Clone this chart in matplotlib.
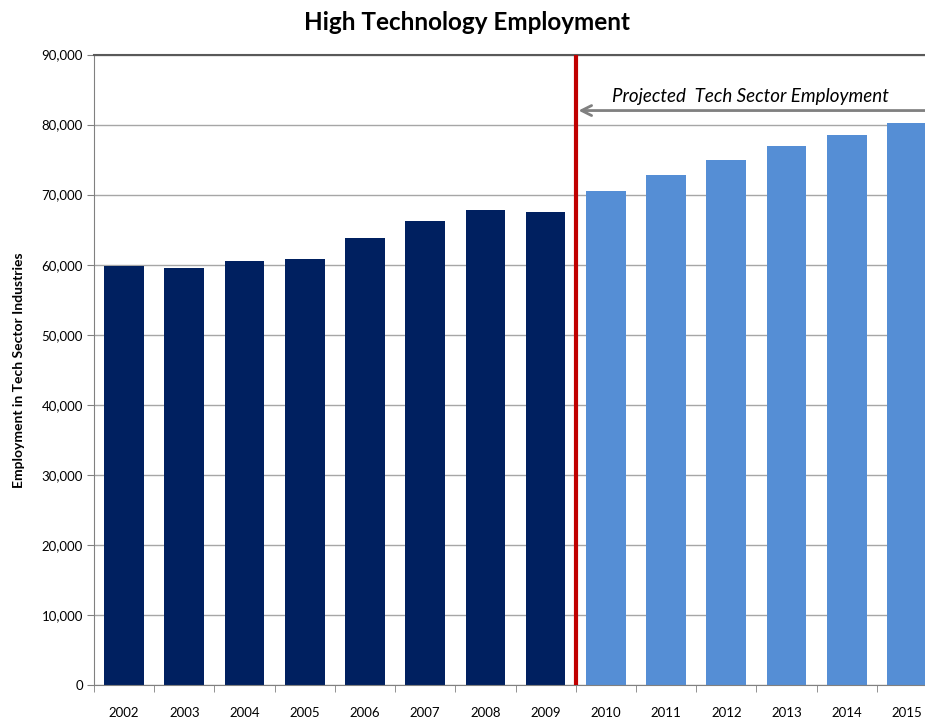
import matplotlib
matplotlib.use("Agg")
import matplotlib.pyplot as plt
from matplotlib.ticker import FuncFormatter, FixedLocator

plt.rcParams['font.family'] = ['Lato', 'DejaVu Sans']

years = ["2002", "2003", "2004", "2005", "2006", "2007", "2008",
         "2009", "2010", "2011", "2012", "2013", "2014", "2015"]
employment = [59800, 59500, 60500, 60800, 63800, 66300, 67800,
              67500, 70500, 72800, 75000, 77000, 78500, 80200]
n_actual = 8  # 2002-2009 are actuals, the rest projected

actual_color = "#002060"
projected_color = "#558ED5"

fig = plt.figure(figsize=(9.25, 7.19), dpi=100)
ax = fig.add_axes([94 / 925, 1 - 685 / 719, 843 / 925, (685 - 54.5) / 719])

x = list(range(len(years)))
colors = [actual_color if i < n_actual else projected_color for i in x]
ax.bar(x, employment, width=0.66, color=colors, zorder=2)

ax.set_xlim(-0.5, len(years) - 0.5)
ax.set_ylim(0, 90000)
ax.set_yticks(range(0, 90001, 10000))
ax.yaxis.set_major_formatter(FuncFormatter(lambda v, p: f"{int(v):,}"))
ax.grid(axis="y", color="#A6A6A6", linewidth=1, zorder=0)

# years sit in the middle of each slot, ticks go on the boundaries
ax.set_xticks(x)
ax.set_xticklabels(years)
ax.tick_params(axis="x", which="major", length=0, pad=16, labelsize=9.5)
ax.xaxis.set_minor_locator(FixedLocator([i - 0.5 for i in range(len(years) + 1)]))
ax.tick_params(axis="x", which="minor", length=5, color="#808080", direction="out")
ax.tick_params(axis="y", length=5, color="#808080", labelsize=9.5, pad=3)

ax.spines["right"].set_visible(False)
ax.spines["left"].set_color("#808080")
ax.spines["bottom"].set_color("#808080")
ax.spines["top"].set_color("#595959")
ax.spines["top"].set_linewidth(1.5)

# split between actual and projected years
split = n_actual - 0.5
ax.axvline(split, color="#C00000", linewidth=3, zorder=4)

ax.annotate("", xy=(split, 82000), xytext=(len(years) - 0.3, 82000),
            arrowprops=dict(arrowstyle="<->", color="#808080", lw=2,
                            mutation_scale=18),
            annotation_clip=False, zorder=5)
ax.text(10.4, 84000, "Projected  Tech Sector Employment", style="italic",
        fontsize=13.5, ha="center", va="center", zorder=5)

ax.set_ylabel("Employment in Tech Sector Industries", fontsize=10,
              fontweight="bold", labelpad=12)
fig.text(467 / 925, 1 - 22 / 719, "High Technology Employment",
         fontsize=17.5, fontweight="bold", ha="center", va="center")

fig.savefig("out.png", dpi=100)
